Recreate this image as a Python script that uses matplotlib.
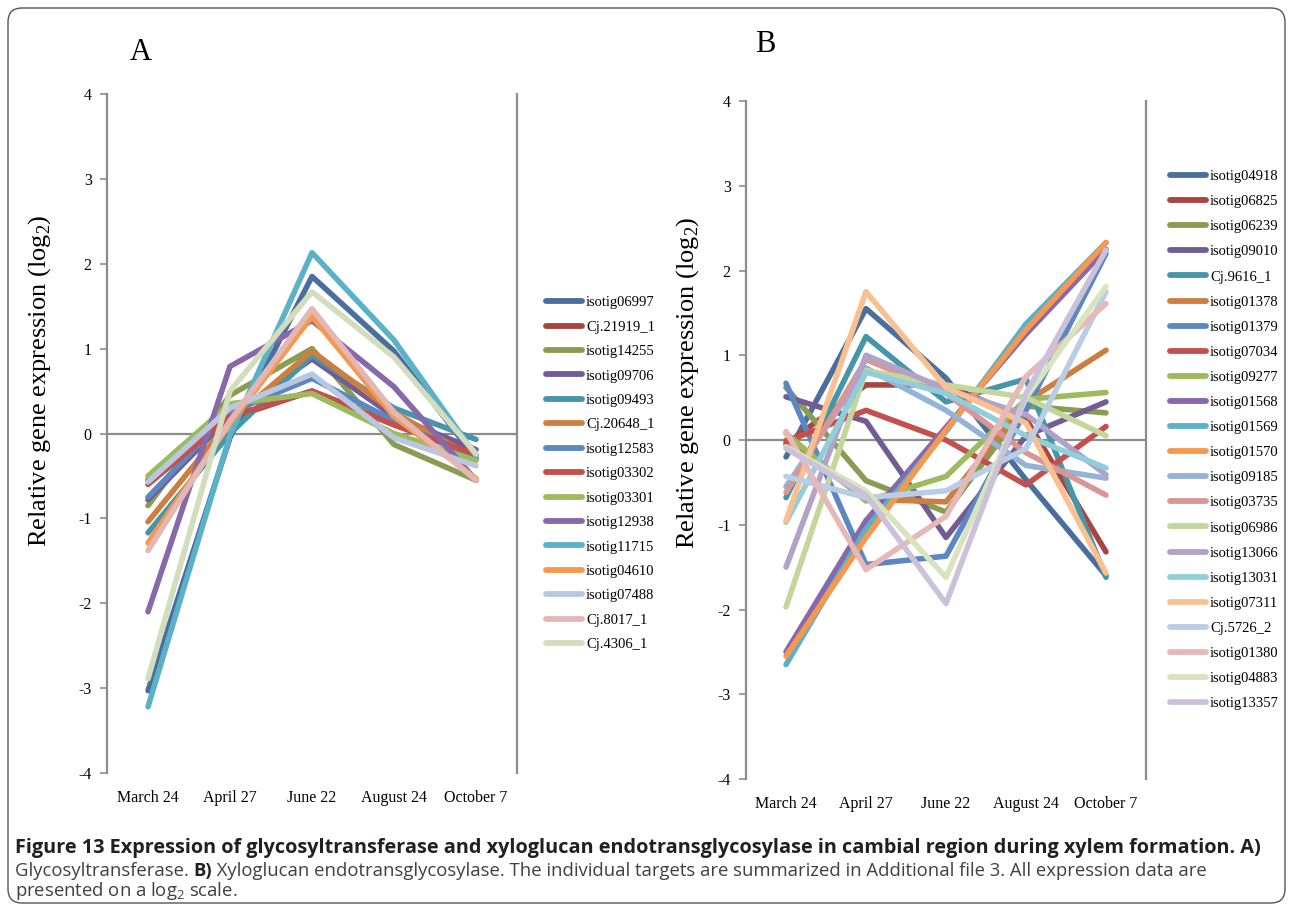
import matplotlib
matplotlib.use("Agg")
import matplotlib.pyplot as plt
from matplotlib.patches import FancyBboxPatch
from matplotlib.lines import Line2D

# ---- data ----
dates = ["March 24", "April 27", "June 22", "August 24", "October 7"]

a_names = ["isotig06997", "Cj.21919_1", "isotig14255", "isotig09706", "isotig09493",
           "Cj.20648_1", "isotig12583", "isotig03302", "isotig03301", "isotig12938",
           "isotig11715", "isotig04610", "isotig07488", "Cj.8017_1", "Cj.4306_1"]
a_values = [
    [-3.03, -0.05, 1.85, 0.97, -0.30],
    [-0.55, 0.18, 0.50, 0.12, -0.25],
    [-0.85, 0.45, 1.00, -0.13, -0.55],
    [-0.78, 0.20, 0.88, 0.20, -0.19],
    [-1.17, 0.00, 0.92, 0.30, -0.07],
    [-1.04, 0.15, 0.97, 0.25, -0.30],
    [-0.75, 0.25, 0.65, 0.15, -0.30],
    [-0.60, 0.20, 0.50, 0.10, -0.25],
    [-0.50, 0.35, 0.47, 0.00, -0.32],
    [-2.10, 0.79, 1.33, 0.55, -0.55],
    [-3.22, -0.02, 2.13, 1.10, -0.26],
    [-1.29, 0.12, 1.38, 0.20, -0.53],
    [-0.57, 0.30, 0.70, -0.05, -0.38],
    [-1.38, 0.15, 1.47, 0.25, -0.55],
    [-2.89, 0.50, 1.67, 0.90, -0.24],
]

b_names = ["isotig04918", "isotig06825", "isotig06239", "isotig09010", "Cj.9616_1",
           "isotig01378", "isotig01379", "isotig07034", "isotig09277", "isotig01568",
           "isotig01569", "isotig01570", "isotig09185", "isotig03735", "isotig06986",
           "isotig13066", "isotig13031", "isotig07311", "Cj.5726_2", "isotig01380",
           "isotig04883", "isotig13357"]
b_values = [
    [-0.20, 1.55, 0.73, -0.47, -1.60],
    [-0.05, 0.65, 0.65, 0.25, -1.32],
    [0.62, -0.48, -0.85, 0.40, 0.32],
    [0.51, 0.22, -1.15, 0.05, 0.45],
    [-0.68, 1.22, 0.45, 0.72, -1.62],
    [0.00, -0.70, -0.73, 0.45, 1.06],
    [0.67, -1.47, -1.37, 0.35, 2.20],
    [-0.02, 0.35, 0.00, -0.53, 0.16],
    [0.08, -0.72, -0.43, 0.48, 0.56],
    [-2.50, -0.95, 0.15, 1.25, 2.25],
    [-2.65, -1.05, 0.10, 1.37, 2.33],
    [-2.55, -1.15, 0.12, 1.30, 2.33],
    [-0.55, 0.85, 0.35, -0.30, -0.45],
    [-0.62, 0.95, 0.55, -0.15, -0.65],
    [-1.97, 0.82, 0.65, 0.50, 0.05],
    [-1.50, 1.00, 0.60, 0.30, -0.41],
    [-0.97, 0.80, 0.55, 0.05, -0.33],
    [-0.95, 1.75, 0.62, 0.20, -1.57],
    [-0.43, -0.68, -0.60, -0.10, 1.75],
    [0.10, -1.53, -0.90, 0.75, 1.61],
    [-0.08, -0.60, -1.62, 0.50, 1.81],
    [-0.10, -0.65, -1.93, 0.55, 2.24],
]

# Excel-like palette: darker, base, lighter, lightest
palette = ["#4A6F9E", "#A84541", "#8A9C52", "#735C93", "#4596A9", "#CD7F40",
           "#5B88C0", "#C3504D", "#9DBB5E", "#8768AB", "#5BB2C8", "#F6994E",
           "#95B3D7", "#D99694", "#C3D69B", "#B3A2C7", "#92CDDC", "#FAC090",
           "#B9CDE5", "#E6B9B8", "#D7E4BD", "#CCC1DA"]
a_colors = palette[:12] + ["#B9C8E0", "#E3B7B6", "#D3DDBE"]
b_colors = palette

SERIF = "Liberation Serif"
plt.rcParams["font.family"] = [SERIF, "DejaVu Serif"]
plt.rcParams["axes.unicode_minus"] = False

W, H = 1293, 907
fig = plt.figure(figsize=(W / 100, H / 100), dpi=100)


def panel(rect_px, names, values, colors, letter, letter_xy, lab_xy, leg_xy, leg_sp):
    l, r, t, b = rect_px
    ax = fig.add_axes([l / W, 1 - b / H, (r - l) / W, (b - t) / H])
    ax.axhline(0, color="#8c8c8c", lw=1.6, zorder=1)
    handles = []
    for name, vals, c in zip(names, values, colors):
        ln, = ax.plot(range(len(dates)), vals, color=c, lw=4.0,
                      solid_capstyle="round", zorder=2, label=name)
        handles.append(ln)
    ax.set_xlim(-0.5, len(dates) - 0.5)
    ax.set_ylim(-4, 4)
    ax.set_yticks(range(-4, 5))
    ax.set_xticks(range(len(dates)))
    ax.set_xticklabels(dates)
    for s in ["top", "bottom"]:
        ax.spines[s].set_visible(False)
    for s in ["left", "right"]:
        ax.spines[s].set_color("#8c8c8c")
        ax.spines[s].set_linewidth(1.6)
    ax.tick_params(axis="x", length=0, pad=12, labelsize=11.5)
    ax.tick_params(axis="y", length=5, width=1.2, color="#8c8c8c", pad=6, labelsize=11.5)
    ax.set_ylabel(r"Relative gene expression (log$_\mathregular{2}$)", fontsize=19)
    ax.yaxis.set_label_coords(-(l - lab_xy[0]) / (r - l), (b - lab_xy[1]) / (b - t))
    fig.text(letter_xy[0] / W, 1 - letter_xy[1] / H, letter, fontsize=22,
             ha="center", va="center")
    lh = [Line2D([], [], color=h.get_color(), lw=4.2, solid_capstyle="round")
          for h in handles]
    fig.legend(lh, names, loc="upper left",
               bbox_to_anchor=(leg_xy[0] / W, 1 - leg_xy[1] / H),
               frameon=False, borderpad=0, borderaxespad=0, handlelength=2.5,
               handletextpad=0.25, labelspacing=leg_sp,
               prop={"family": SERIF, "size": 10.5})
    return ax


panel((107, 517, 94, 773), a_names, a_values, a_colors, "A", (141, 52), (53, 381),
      (546, 296), 0.77)
panel((746, 1146, 101, 779), b_names, b_values, b_colors, "B", (765, 45), (701, 383),
      (1170, 170), 0.815)

# rounded frame round the figure
frame = FancyBboxPatch((8 / 100, 4 / 100), (W - 16) / 100, (H - 12) / 100,
                       boxstyle="round,pad=0,rounding_size=0.14",
                       transform=fig.dpi_scale_trans, fill=False,
                       edgecolor="#555555", lw=1.0)
fig.patches.append(frame)

# caption
CAP = "Open Sans"
renderer = fig.canvas.get_renderer()


def put(x, y, s, **kw):
    t = fig.text(x / W, 1 - y / H, s, va="baseline", family=CAP, **kw)
    bb = t.get_window_extent(renderer)
    return t, bb.x1


t1, _ = put(15, 853, "Figure 13 Expression of glycosyltransferase and xyloglucan "
            "endotransglycosylase in cambial region during xylem formation. A)",
            fontsize=12, weight="bold", color="#231f20")
w1 = t1.get_window_extent(renderer).width
t1.set_fontsize(12 * 1247 / w1)

body = dict(fontsize=13.3, color="#404040")
_, x = put(15, 876, "Glycosyltransferase. ", **body)
_, x = put(x, 876, "B)", fontsize=13.3, weight="bold", color="#231f20")
put(x, 876, " Xyloglucan endotransglycosylase. The individual targets are "
    "summarized in Additional file 3. All expression data are", **body)
put(15, 896, r"presented on a log$_\mathregular{2}$ scale.", **body)

fig.savefig("out.png", dpi=100)
